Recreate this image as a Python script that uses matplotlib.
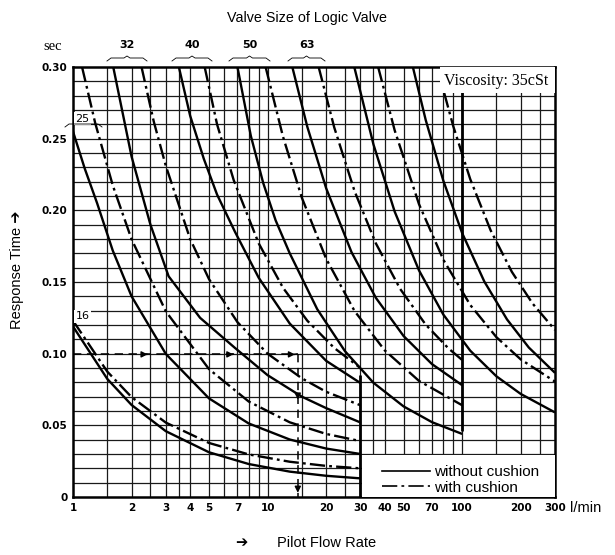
import matplotlib
matplotlib.use('Agg')
import matplotlib.pyplot as plt
from matplotlib.lines import Line2D
from matplotlib.patches import Rectangle

plt.rcParams['font.family'] = ['Liberation Sans', 'DejaVu Sans']
plt.rcParams['lines.scale_dashes'] = False

# ---------------- data ----------------
# pilot flow rate [l/min] and response time [sec] for each curve
q_16s = [1, 1.5, 2, 3, 5, 8, 13, 20, 30]
t_16s = [0.119, 0.0824, 0.0642, 0.0459, 0.0312, 0.0230, 0.0177, 0.0148, 0.013]
q_16d = [1, 1.5, 2, 3, 5, 8, 13, 20, 30]
t_16d = [0.123, 0.0875, 0.0697, 0.0519, 0.0377, 0.0297, 0.0246, 0.0217, 0.020]

q_25s = [1, 1.15, 1.33, 1.6, 2, 3, 5, 8, 13, 20, 30]
t_25s = [0.255, 0.229, 0.205, 0.172, 0.140, 0.0998, 0.0688, 0.0513, 0.0401, 0.0338, 0.030]
q_25d = [1.113, 1.3, 1.6, 2, 3, 5, 8, 13, 20, 30]
t_25d = [0.300, 0.261, 0.2175, 0.1798, 0.1295, 0.0892, 0.0666, 0.0521, 0.044, 0.039]

q_32s = [1.61, 2, 2.5, 3.1, 4.5, 6.8, 10, 15, 20, 30]
t_32s = [0.300, 0.2375, 0.190, 0.154, 0.125, 0.104, 0.085, 0.070, 0.062, 0.052]
q_32d = [2.25, 2.6, 3, 4, 5, 7, 10, 15, 20, 30]
t_32d = [0.300, 0.262, 0.231, 0.180, 0.152, 0.122, 0.100, 0.0828, 0.0734, 0.064]

q_40s = [3.5, 4, 4.7, 5.5, 6.8, 9, 13, 20, 30]
t_40s = [0.300, 0.266, 0.236, 0.211, 0.185, 0.153, 0.121, 0.095, 0.0795]
q_40d = [4.75, 5.5, 6.7, 9, 12, 16, 22, 30]
t_40d = [0.300, 0.260, 0.221, 0.177, 0.146, 0.123, 0.104, 0.090]

q_50s = [7, 8.2, 9.5, 11, 13, 18, 25, 35, 50, 70, 100]
t_50s = [0.300, 0.252, 0.219, 0.193, 0.170, 0.131, 0.1017, 0.0797, 0.0632, 0.0522, 0.044]
q_50d = [9.77, 12, 15, 20, 28, 40, 60, 100]
t_50d = [0.300, 0.2514, 0.2088, 0.1662, 0.1297, 0.1023, 0.081, 0.064]

q_63s = [13.4, 16, 20, 27, 36, 50, 70, 100]
t_63s = [0.300, 0.2583, 0.2154, 0.1708, 0.139, 0.1123, 0.0927, 0.078]
q_63d = [18.3, 22, 28, 36, 48, 65, 85, 100]
t_63d = [0.300, 0.2579, 0.2133, 0.177, 0.1452, 0.1202, 0.1037, 0.0956]

q_80s = [27.9, 35, 45, 60, 80, 110, 150, 200, 300]
t_80s = [0.300, 0.246, 0.1991, 0.1581, 0.1273, 0.1021, 0.0842, 0.0719, 0.0590]
q_80d = [37, 45, 60, 80, 110, 150, 200, 300]
t_80d = [0.300, 0.2558, 0.2043, 0.1656, 0.134, 0.1115, 0.096, 0.0805]

q_100s = [55.8, 65, 80, 100, 130, 170, 220, 300]
t_100s = [0.300, 0.2629, 0.2207, 0.1841, 0.1503, 0.1239, 0.1043, 0.0866]
q_100d = [80.8, 90, 110, 140, 180, 230, 300]
t_100d = [0.282, 0.2587, 0.2218, 0.1861, 0.1571, 0.135, 0.1165]

solid_curves = [(q_16s, t_16s), (q_25s, t_25s), (q_32s, t_32s), (q_40s, t_40s),
                (q_50s, t_50s), (q_63s, t_63s), (q_80s, t_80s), (q_100s, t_100s)]
dash_curves = [(q_16d, t_16d), (q_25d, t_25d), (q_32d, t_32d), (q_40d, t_40d),
               (q_50d, t_50d), (q_63d, t_63d), (q_80d, t_80d), (q_100d, t_100d)]

x_ticks = [1, 2, 3, 4, 5, 7, 10, 20, 30, 40, 50, 70, 100, 200, 300]
y_ticks = [0, 0.05, 0.10, 0.15, 0.20, 0.25, 0.30]
y_ticklabels = ['0', '0.05', '0.10', '0.15', '0.20', '0.25', '0.30']
size_labels = ['32', '40', '50', '63']

# example reading line (dashed arrows)
read_q = 14.3
read_t = 0.0995

# ---------------- figure ----------------
W, H = 615, 555
fig = plt.figure(figsize=(W / 100, H / 100), dpi=100)
ax = fig.add_axes([73 / W, 1 - 497 / H, (555 - 73) / W, (497 - 67) / H])
ax.set_xscale('log')
ax.set_xlim(1, 300)
ax.set_ylim(0, 0.30)

# grid
grid_q = [1.5, 2, 2.5, 3, 3.5, 4, 5, 6, 7, 8, 9, 10, 15, 20, 25, 30, 35, 40,
          50, 60, 70, 80, 90, 100, 150, 200, 250]
ax.vlines(grid_q, 0, 0.30, color='#1a1a1a', lw=0.9, zorder=1)
ax.hlines([i / 100 for i in range(1, 30)], 1, 300, color='#1a1a1a', lw=0.9, zorder=1)
ax.vlines([30], 0, 0.085, color='black', lw=2.0, zorder=2)
ax.vlines([100], 0.046, 0.30, color='black', lw=2.0, zorder=2)

for q, t in solid_curves:
    ax.plot(q, t, color='black', lw=1.7, solid_capstyle='butt', zorder=4)
for q, t in dash_curves:
    ax.plot(q, t, color='black', lw=1.7, dashes=[11, 3, 2, 3], zorder=4)

# reading example
ax.plot([1, read_q], [read_t, read_t], color='black', lw=1.1, dashes=[6, 4], zorder=3)
ax.plot([read_q, read_q], [read_t, 0], color='black', lw=1.1, dashes=[6, 4], zorder=3)
for qa in [2.5, 6.9, read_q]:
    ax.annotate('', xy=(qa, read_t), xytext=(qa / 1.08, read_t),
                arrowprops=dict(arrowstyle='-|>', color='black', lw=1, mutation_scale=9), zorder=5)
for ta in [0.066, 0.001]:
    ax.annotate('', xy=(read_q, ta), xytext=(read_q, ta + 0.008),
                arrowprops=dict(arrowstyle='-|>', color='black', lw=1, mutation_scale=9), zorder=5)

# ticks
ax.set_xticks(x_ticks)
ax.set_xticklabels([str(v) for v in x_ticks])
ax.minorticks_off()
ax.set_yticks(y_ticks)
ax.set_yticklabels(y_ticklabels)
ax.tick_params(length=0, labelsize=7.5, pad=4)
for lab in ax.get_xticklabels() + ax.get_yticklabels():
    lab.set_family('DejaVu Sans')
    lab.set_fontweight('bold')
for s in ax.spines.values():
    s.set_linewidth(1.8)
    s.set_zorder(6)

# legend area
ax.add_patch(Rectangle(((362 - 73) / 482, 0.0), 1 - (362 - 73) / 482, 42 / 430,
                       transform=ax.transAxes, facecolor='white', edgecolor='none', zorder=7))
handles = [Line2D([], [], color='black', lw=1.2),
           Line2D([], [], color='black', lw=1.2, dashes=[11, 3, 2, 3])]
leg = ax.legend(handles, ['without cushion', 'with cushion'], loc='lower left',
                bbox_to_anchor=((380 - 73) / 482, 0.0), frameon=False, fontsize=11,
                handlelength=3.1, handletextpad=0.3, labelspacing=0.1,
                borderaxespad=0.0, borderpad=0.15)
leg.set_zorder(8)

# viscosity note on a white patch
ax.add_patch(Rectangle(((440 - 73) / 482, (497 - 93) / 430), 1 - (440 - 73) / 482,
                       1 - (497 - 93) / 430, transform=ax.transAxes,
                       facecolor='white', edgecolor='none', zorder=7))
ax.text(0.985, (497 - 81) / 430, 'Viscosity: 35cSt', transform=ax.transAxes, ha='right',
        va='center', family='Liberation Serif', fontsize=11.5, zorder=8)
ax.text(1.03, 0.264, '25', ha='left', va='center', fontsize=8, family='DejaVu Sans',
        zorder=8, bbox=dict(facecolor='white', edgecolor='none', pad=1))
ax.text(1.03, 0.126, '16', ha='left', va='center', fontsize=8, family='DejaVu Sans',
        zorder=8, bbox=dict(facecolor='white', edgecolor='none', pad=1))

# figure-level texts
def fx(px):
    return px / W

def fy(py):
    return 1 - py / H

fig.text(fx(307), fy(18), 'Valve Size of Logic Valve', ha='center', va='center', fontsize=10.3)
fig.text(fx(53), fy(46), 'sec', ha='center', va='center', family='Liberation Serif', fontsize=10.5)
size_x = [127, 192, 250, 307]
brace = [(107, 147), (172, 212), (229, 270), (288, 325)]
for lab, xc, (x1, x2) in zip(size_labels, size_x, brace):
    fig.text(fx(xc), fy(45), lab, ha='center', va='center', fontsize=8,
             family='DejaVu Sans', fontweight='bold')
    xm = (x1 + x2) / 2
    fig.add_artist(Line2D([fx(x1), fx(x1 + 4), fx(xm - 3), fx(xm), fx(xm + 3), fx(x2 - 4), fx(x2)],
                          [fy(61), fy(58), fy(58), fy(56), fy(58), fy(58), fy(61)],
                          color='black', lw=0.6, transform=fig.transFigure))
fig.add_artist(Line2D([fx(65), fx(69), fx(98), fx(102)], [fy(127), fy(124), fy(124), fy(127)],
                      color='black', lw=0.6, transform=fig.transFigure))
fig.text(fx(17), fy(270), 'Response Time \u2794', rotation=90, ha='center', va='center',
         fontsize=10.5, family=['Liberation Sans', 'DejaVu Sans'])
fig.text(fx(586), fy(508), 'l/min', ha='center', va='center', fontsize=10.5)
fig.text(fx(241), fy(543), '\u2794', ha='center', va='center', fontsize=10.5,
         family=['DejaVu Sans'])
fig.text(fx(327), fy(543), 'Pilot Flow Rate', ha='center', va='center', fontsize=10.5)

fig.savefig('out.png', dpi=100, facecolor='white')
